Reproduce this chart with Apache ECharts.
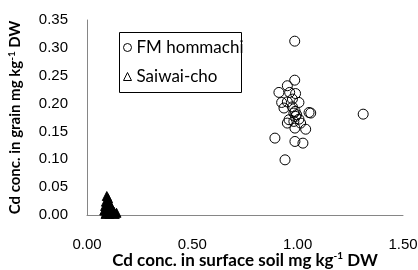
<!DOCTYPE html>
<html>
<head>
<meta charset="utf-8">
<script src="https://cdn.jsdelivr.net/npm/echarts@6/dist/echarts.min.js"></script>
<style>
  html, body { margin: 0; padding: 0; background: #fff; }
  #chart { width: 418px; height: 270px; }
</style>
</head>
<body>
<div id="chart"></div>
<script>
// FM hommachi: [soil Cd, grain Cd]
var hommachi = [
  [0.986, 0.312], [0.986, 0.242], [0.951, 0.232], [0.911, 0.220], [0.962, 0.220],
  [0.990, 0.218], [0.975, 0.208], [0.924, 0.202], [1.006, 0.202], [0.951, 0.203],
  [0.935, 0.192], [0.975, 0.194], [0.982, 0.183], [0.988, 0.186], [1.054, 0.184],
  [1.062, 0.183], [0.990, 0.177], [1.006, 0.172], [0.951, 0.165], [0.982, 0.168],
  [1.014, 0.165], [0.987, 0.156], [1.038, 0.154], [0.959, 0.171], [0.892, 0.138],
  [0.987, 0.132], [1.025, 0.129], [0.940, 0.099], [1.311, 0.181], [0.995, 0.180]
];
// Saiwai-cho
var saiwai = [
  [0.094, 0.034], [0.100, 0.030], [0.090, 0.024], [0.104, 0.022], [0.086, 0.016],
  [0.096, 0.014], [0.108, 0.012], [0.082, 0.008], [0.092, 0.006], [0.100, 0.004],
  [0.112, 0.006], [0.118, 0.010], [0.122, 0.004], [0.128, 0.006], [0.140, 0.004],
  [0.106, 0.002], [0.088, 0.002], [0.114, 0.016], [0.098, 0.020], [0.132, 0.002]
];
var xTicks = ['0.00', '0.50', '1.00', '1.50'];
var yTicks = ['0.00', '0.05', '0.10', '0.15', '0.20', '0.25', '0.30', '0.35'];

var chart = echarts.init(document.getElementById('chart'));
var tickFont = { fontFamily: 'Liberation Sans', fontSize: 15, color: '#000' };
var nameRich = {
  sup: { fontFamily: 'Lato', fontWeight: 'bold', fontSize: 10, lineHeight: 10, verticalAlign: 'top', color: '#000' }
};

chart.setOption({
  animation: false,
  grid: { left: 87, right: 15, top: 20, bottom: 55, outerBoundsMode: 'none', containLabel: false },
  legend: {
    orient: 'vertical',
    left: 123, top: 39,
    itemWidth: 8, itemHeight: 8, itemGap: 12,
    padding: 0,
    textStyle: { fontFamily: 'Lato', fontSize: 17, color: '#000' },
    data: [
      { name: 'FM hommachi', icon: 'circle', itemStyle: { color: '#fff', borderColor: '#000', borderWidth: 1 } },
      { name: 'Saiwai-cho', icon: 'triangle', itemStyle: { color: '#fff', borderColor: '#000', borderWidth: 1 } }
    ]
  },
  graphic: [{
    type: 'rect', left: 117, top: 30,
    shape: { width: 122, height: 60 },
    style: { fill: 'none', stroke: '#000', lineWidth: 1 }
  }],
  xAxis: {
    type: 'value', min: 0, max: 1.5, interval: 0.5,
    splitLine: { show: false },
    axisLine: { lineStyle: { color: '#868686' } },
    axisTick: { show: false },
    axisLabel: Object.assign({ margin: 22, formatter: function (v) { return xTicks[Math.round(v / 0.5)]; } }, tickFont),
    name: 'Cd conc. in surface soil mg kg{sup|-1} DW',
    nameLocation: 'middle', nameGap: 36, nameMoveOverlap: false,
    nameTextStyle: { fontFamily: 'Lato', fontWeight: 'bold', fontSize: 17, lineHeight: 19, color: '#000', rich: nameRich }
  },
  yAxis: {
    type: 'value', min: 0, max: 0.35, interval: 0.05,
    splitLine: { show: false },
    axisLine: { show: true, lineStyle: { color: '#868686' } },
    axisTick: { show: false },
    axisLabel: Object.assign({ margin: 19, formatter: function (v) { return yTicks[Math.round(v / 0.05)]; } }, tickFont),
    name: 'Cd conc. in grain mg kg{sup|-1} DW',
    nameLocation: 'middle', nameGap: 63, nameMoveOverlap: false,
    nameTextStyle: { fontFamily: 'Lato', fontWeight: 'bold', fontSize: 15, lineHeight: 17, color: '#000', rich: nameRich }
  },
  series: [
    {
      name: 'FM hommachi', type: 'scatter', data: hommachi,
      symbol: 'circle', symbolSize: 10,
      itemStyle: { color: 'rgba(255,255,255,0)', borderColor: '#000', borderWidth: 1, opacity: 1 }
    },
    {
      name: 'Saiwai-cho', type: 'scatter', data: saiwai,
      symbol: 'triangle', symbolSize: 9,
      itemStyle: { color: '#000', borderColor: '#000', borderWidth: 1, opacity: 1 }
    }
  ]
});
</script>
</body>
</html>
